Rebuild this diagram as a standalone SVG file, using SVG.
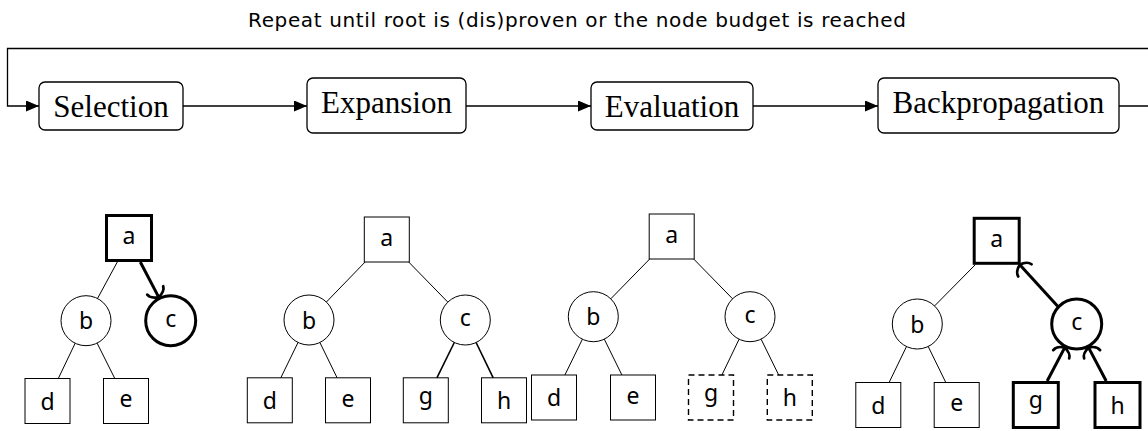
<svg xmlns="http://www.w3.org/2000/svg" width="1148" height="431" viewBox="0 0 1148 431">
<style>
.box{fill:#fff;stroke:#000;stroke-width:1.3}
.blab{font-family:"Liberation Serif",serif;font-size:31px;text-anchor:middle;fill:#000}
.title{font-family:"DejaVu Sans",sans-serif;font-size:20px;fill:#000}
.flow{fill:none;stroke:#000;stroke-width:1.3}
.sq{fill:#fff;stroke:#000;stroke-width:1}
.sqk{fill:#fff;stroke:#000;stroke-width:3}
.sqd{fill:#fff;stroke:#000;stroke-width:1.4;stroke-dasharray:6 4}
.lab{font-family:"Noto Sans",sans-serif;font-size:23px;text-anchor:middle;fill:#000}
.e{stroke:#000;stroke-width:1;fill:none}
.em{stroke:#000;stroke-width:1.6;fill:none}
.ek{stroke:#000;stroke-width:3;fill:none}
</style>
<defs>
<marker id="latex" markerUnits="userSpaceOnUse" viewBox="0 0 13 11" refX="13" refY="5.5" markerWidth="13" markerHeight="11" orient="auto">
<path d="M0,0 L13,5.5 L0,11 z" fill="#000"/>
</marker>
<marker id="to" markerUnits="userSpaceOnUse" viewBox="-12 -12 14 24" refX="0" refY="0" markerWidth="14" markerHeight="24" orient="auto" overflow="visible">
<path d="M -7.5,-9 C -4.5,-8.5 -1.2,-5 0,0 C -1.2,5 -4.5,8.5 -7.5,9" fill="none" stroke="#000" stroke-width="2.8" stroke-linecap="round"/>
</marker>
</defs>

<text class="title" x="248" y="27" textLength="658" lengthAdjust="spacing">Repeat until root is (dis)proven or the node budget is reached</text>

<g id="flow-connectors">
<path class="flow" d="M1119,106 H1150 V48.5 H7.5 V106 H39" marker-end="url(#latex)"/>
<line class="flow" x1="183" y1="106" x2="307" y2="106" marker-end="url(#latex)"/>
<line class="flow" x1="466" y1="106" x2="591" y2="106" marker-end="url(#latex)"/>
<line class="flow" x1="753" y1="106" x2="878" y2="106" marker-end="url(#latex)"/>
</g>

<g id="selection"><rect class="box" x="39" y="82" width="144" height="48" rx="6"/><text class="blab" x="111" y="116.5">Selection</text></g>
<g id="expansion"><rect class="box" x="307" y="78" width="159" height="55" rx="6"/><text class="blab" x="386.5" y="113">Expansion</text></g>
<g id="evaluation"><rect class="box" x="591" y="82" width="162" height="48" rx="6"/><text class="blab" x="672" y="116.5">Evaluation</text></g>
<g id="backpropagation"><rect class="box" x="878" y="78" width="241" height="55" rx="6"/><text class="blab" x="998.5" y="113">Backpropagation</text></g>

<!-- tree 1 nodes -->
<g id="t1-a"><rect class="sqk" x="106.5" y="215.5" width="45" height="45"/><text class="lab" x="129" y="244.2">a</text></g>
<g id="t1-b"><circle class="sq" cx="86" cy="320.7" r="25"/><text class="lab" x="86" y="329.4">b</text></g>
<g id="t1-c"><circle class="sqk" cx="170.7" cy="320.7" r="25"/><text class="lab" x="170.7" y="326.9">c</text></g>
<g id="t1-d"><rect class="sq" x="25" y="378.5" width="45" height="45"/><text class="lab" x="47.5" y="409.7">d</text></g>
<g id="t1-e"><rect class="sq" x="103.5" y="378.5" width="45" height="45"/><text class="lab" x="126" y="407.2">e</text></g>

<!-- tree 2 nodes -->
<g id="t2-a"><rect class="sq" x="364.3" y="217" width="45" height="45"/><text class="lab" x="386.8" y="245.7">a</text></g>
<g id="t2-b"><circle class="sq" cx="309" cy="320" r="25"/><text class="lab" x="309" y="328.7">b</text></g>
<g id="t2-c"><circle class="sq" cx="465.3" cy="320" r="25"/><text class="lab" x="465.3" y="326.2">c</text></g>
<g id="t2-d"><rect class="sq" x="247.3" y="377.8" width="45" height="45"/><text class="lab" x="269.8" y="409">d</text></g>
<g id="t2-e"><rect class="sq" x="325.5" y="377.8" width="45" height="45"/><text class="lab" x="348" y="406.5">e</text></g>
<g id="t2-g"><rect class="sq" x="403.3" y="377.8" width="45" height="45"/><text class="lab" x="425.8" y="403.7">g</text></g>
<g id="t2-h"><rect class="sq" x="481.5" y="377.8" width="45" height="45"/><text class="lab" x="504" y="409">h</text></g>

<!-- tree 3 nodes -->
<g id="t3-a"><rect class="sq" x="649.2" y="214" width="45" height="45"/><text class="lab" x="671.7" y="242.7">a</text></g>
<g id="t3-b"><circle class="sq" cx="593.3" cy="316.7" r="25"/><text class="lab" x="593.3" y="325.4">b</text></g>
<g id="t3-c"><circle class="sq" cx="750" cy="316.7" r="25"/><text class="lab" x="750" y="322.9">c</text></g>
<g id="t3-d"><rect class="sq" x="531.5" y="375" width="45" height="45"/><text class="lab" x="554" y="406.2">d</text></g>
<g id="t3-e"><rect class="sq" x="610.5" y="375" width="45" height="45"/><text class="lab" x="633" y="403.7">e</text></g>
<g id="t3-g"><rect class="sqd" x="688.5" y="375" width="45" height="45"/><text class="lab" x="711" y="400.9">g</text></g>
<g id="t3-h"><rect class="sqd" x="767.3" y="375" width="45" height="45"/><text class="lab" x="789.8" y="406.2">h</text></g>

<!-- tree 4 nodes -->
<g id="t4-a"><rect class="sqk" x="974.2" y="218.3" width="45" height="45"/><text class="lab" x="996.7" y="247">a</text></g>
<g id="t4-b"><circle class="sq" cx="917.3" cy="324" r="25"/><text class="lab" x="917.3" y="332.7">b</text></g>
<g id="t4-c"><circle class="sqk" cx="1076.7" cy="324" r="25"/><text class="lab" x="1076.7" y="330.2">c</text></g>
<g id="t4-d"><rect class="sq" x="855.8" y="382.5" width="45" height="45"/><text class="lab" x="878.3" y="413.7">d</text></g>
<g id="t4-e"><rect class="sq" x="934.2" y="382.5" width="45" height="45"/><text class="lab" x="956.7" y="411.2">e</text></g>
<g id="t4-g"><rect class="sqk" x="1013.3" y="382.5" width="45" height="45"/><text class="lab" x="1035.8" y="408.4">g</text></g>
<g id="t4-h"><rect class="sqk" x="1095" y="382.5" width="45" height="45"/><text class="lab" x="1117.5" y="413.7">h</text></g>

<g id="tree-connectors">
<!-- tree 1 -->
<line class="e" x1="117.3" y1="262" x2="97.5" y2="298.5"/>
<line class="ek" x1="140.3" y1="262" x2="158.7" y2="297.1" marker-end="url(#to)"/>
<line class="e" x1="75.2" y1="343.2" x2="58.3" y2="378.5"/>
<line class="e" x1="97.1" y1="343.1" x2="114.8" y2="378.5"/>
<!-- tree 2 -->
<line class="e" x1="365.1" y1="262" x2="326.4" y2="302"/>
<line class="e" x1="408.7" y1="262" x2="447.8" y2="302.1"/>
<line class="e" x1="298" y1="342.5" x2="280.8" y2="377.8"/>
<line class="e" x1="319.9" y1="342.5" x2="337.1" y2="377.8"/>
<line class="em" x1="454.3" y1="342.5" x2="436.9" y2="377.8"/>
<line class="em" x1="476.1" y1="342.5" x2="493.2" y2="377.8"/>
<!-- tree 3 -->
<line class="e" x1="649.7" y1="259" x2="610.8" y2="298.8"/>
<line class="e" x1="693.7" y1="259" x2="732.6" y2="298.8"/>
<line class="e" x1="582.4" y1="339.2" x2="564.9" y2="375"/>
<line class="e" x1="604.3" y1="339.2" x2="621.9" y2="375"/>
<line class="e" x1="739.1" y1="339.2" x2="721.9" y2="375"/>
<line class="e" x1="761.1" y1="339.2" x2="778.7" y2="375"/>
<!-- tree 4 -->
<line class="e" x1="975.2" y1="264.8" x2="934.6" y2="305.9"/>
<line class="ek" x1="1058.4" y1="307" x2="1019.8" y2="264.8" marker-end="url(#to)"/>
<line class="e" x1="906.5" y1="346.5" x2="889.1" y2="382.5"/>
<line class="e" x1="928.2" y1="346.5" x2="945.8" y2="382.5"/>
<line class="ek" x1="1047.2" y1="381" x2="1064.7" y2="347.6" marker-end="url(#to)"/>
<line class="ek" x1="1106.2" y1="381" x2="1088.6" y2="347.6" marker-end="url(#to)"/>
</g>
</svg>
